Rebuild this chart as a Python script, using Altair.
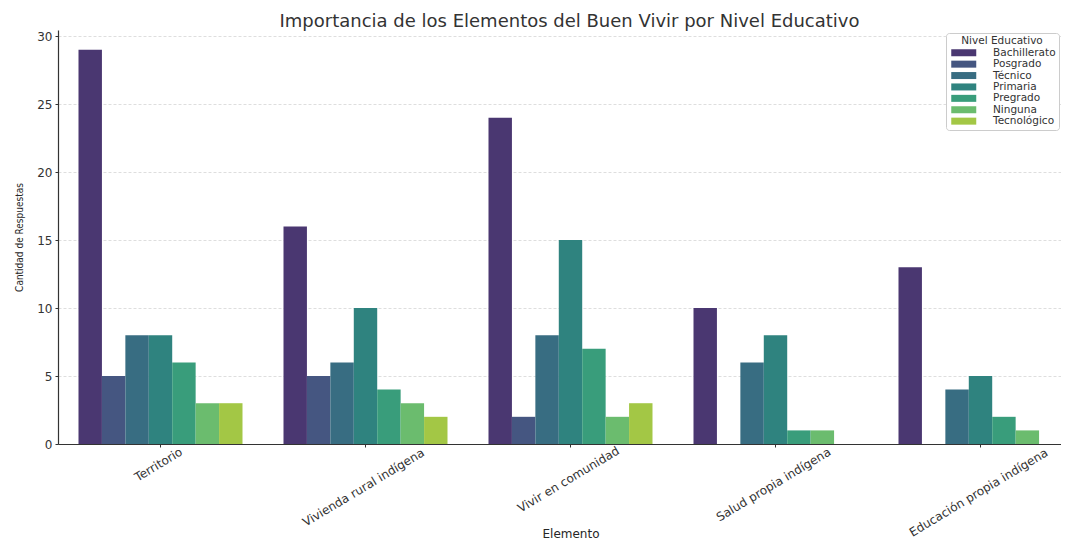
import colorsys
import altair as alt
import pandas as pd

elementos = ["Territorio", "Vivienda rural indígena", "Vivir en comunidad",
             "Salud propia indígena", "Educación propia indígena"]
niveles = ["Bachillerato", "Posgrado", "Técnico", "Primaria", "Pregrado", "Ninguna", "Tecnológico"]

bachillerato = [29, 16, 24, 10, 13]
posgrado = [5, 5, 2, None, None]
tecnico = [8, 6, 8, 6, 4]
primaria = [8, 10, 15, 8, 5]
pregrado = [6, 4, 7, 1, 2]
ninguna = [3, 3, 2, 1, 1]
tecnologico = [3, 2, 3, None, None]

y_ticks = [0, 5, 10, 15, 20, 25, 30]

series = [bachillerato, posgrado, tecnico, primaria, pregrado, ninguna, tecnologico]
rows = []
for nivel, vals in zip(niveles, series):
    for elem, v in zip(elementos, vals):
        if v is not None:
            rows.append({"Elemento": elem, "Nivel": nivel, "Valor": v})
df = pd.DataFrame(rows)

# seaborn-style desaturated viridis palette
base = ["#472d7b", "#3b528b", "#2c728e", "#21918c", "#28ae80", "#5ec962", "#addc30"]


def desat(h, f=0.75):
    r, g, b = (int(h[i:i + 2], 16) / 255 for i in (1, 3, 5))
    hh, l, s = colorsys.rgb_to_hls(r, g, b)
    r, g, b = colorsys.hls_to_rgb(hh, l, s * f)
    return "#%02x%02x%02x" % (round(r * 255), round(g * 255), round(b * 255))


colors = [desat(c) for c in base]

pad_map = {"Territorio": 17, "Vivienda rural indígena": 40, "Vivir en comunidad": 32,
           "Salud propia indígena": 37, "Educación propia indígena": 45}
label_pad = {
    "condition": [{"test": f"datum.value === '{k}'", "value": v} for k, v in pad_map.items()],
    "value": 30,
}

chart = alt.Chart(df).mark_bar().encode(
    x=alt.X("Elemento:N", sort=elementos,
            scale=alt.Scale(domain=elementos, range=[0, 1025], paddingInner=0.2, paddingOuter=0.1),
            axis=alt.Axis(title="Elemento", labelAngle=-31, labelAlign="center", labelBaseline="middle",
                          labelPadding=label_pad, labelOffset=-2, labelFont="DejaVu Sans", labelFontSize=12,
                          labelColor="#333333", tickSize=3, tickColor="#333333",
                          domainColor="#333333", domainWidth=1.2, grid=False,
                          titleFont="DejaVu Sans", titleFontSize=12, titleFontWeight="normal",
                          titleColor="#262626", titleY=96, titleBaseline="bottom")),
    xOffset=alt.XOffset("Nivel:N", sort=niveles,
                        scale=alt.Scale(domain=niveles, paddingInner=0, paddingOuter=0)),
    y=alt.Y("Valor:Q", scale=alt.Scale(domain=[0, 30.45], nice=False),
            axis=alt.Axis(title="Cantidad de Respuestas", values=y_ticks, labelFont="DejaVu Sans",
                          labelFontSize=12, labelColor="#333333", labelPadding=3, tickSize=3,
                          tickColor="#333333", domainColor="#333333", domainWidth=1.2,
                          grid=True, gridColor="#d6d6d6", gridDash=[3, 2], gridWidth=0.8,
                          titleFont="Liberation Sans Narrow, DejaVu Sans Condensed, sans-serif",
                          titleFontSize=10, titleFontWeight="normal", titleColor="#262626",
                          titlePadding=12)),
    color=alt.Color("Nivel:N", sort=niveles, scale=alt.Scale(domain=niveles, range=colors),
                    legend=alt.Legend(title="Nivel Educativo", orient="none", legendX=888, legendY=3,
                                      titleFont="DejaVu Sans", titleFontSize=10.5,
                                      titleFontWeight="normal", titleColor="#333333",
                                      titleAnchor="middle", titlePadding=1,
                                      labelFont="DejaVu Sans", labelFontSize=10.5,
                                      labelColor="#333333",
                                      symbolType="M-2.5,-0.7H2.5V0.7H-2.5Z", symbolSize=100,
                                      symbolStrokeWidth=0, symbolOffset=9.5, labelOffset=24,
                                      rowPadding=0.4, padding=3, strokeColor="#cccccc",
                                      fillColor="white", cornerRadius=3)),
).properties(
    width=1003,
    height=414,
    title=alt.Title("Importancia de los Elementos del Buen Vivir por Nivel Educativo",
                    font="DejaVu Sans", fontSize=18, fontWeight="normal", color="#333333",
                    anchor="middle", frame="group", offset=5, baseline="alphabetic", dx=10, dy=20),
    autosize=alt.AutoSizeParams(type="none"),
    padding={"left": 50, "top": 22, "right": 0, "bottom": 96},
).configure_view(stroke=None)

chart.save("out.html", embed_options={"renderer": "svg", "actions": False})
